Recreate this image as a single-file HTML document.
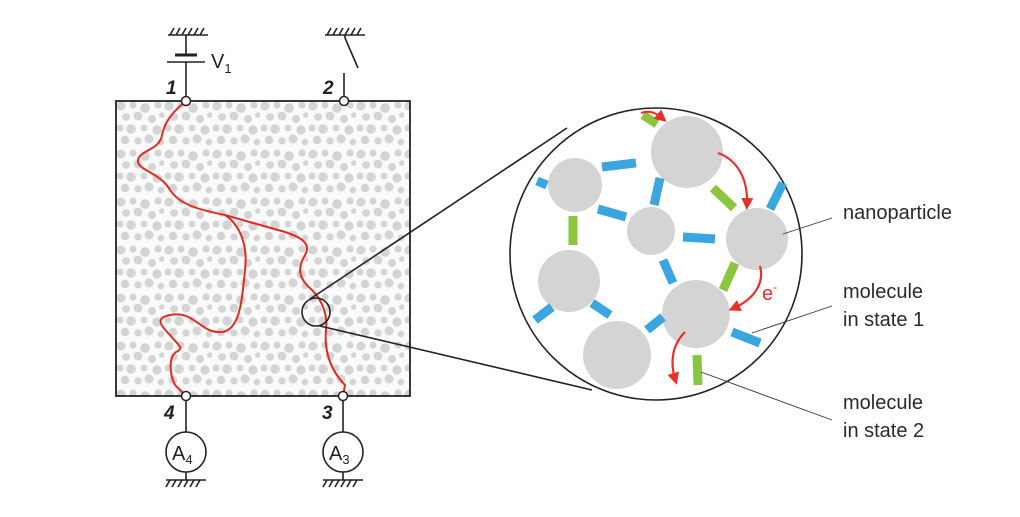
<!DOCTYPE html>
<html><head><meta charset="utf-8"><style>
html,body{margin:0;padding:0;background:#fff;}
svg{display:block;}
text{font-family:"Liberation Sans",Arial,sans-serif;}
</style></head><body>
<svg width="1020" height="517" viewBox="0 0 1020 517" xmlns="http://www.w3.org/2000/svg">
<defs>
<pattern id="dots" x="116" y="101" width="48" height="48" patternUnits="userSpaceOnUse">
<rect width="48" height="48" fill="#fafafa"/>
<g fill="#d4d4d4">
<circle cx="5" cy="5" r="4.5"/><circle cx="17" cy="4" r="3.5"/><circle cx="29" cy="7" r="4.8"/><circle cx="42" cy="4" r="3.6"/>
<circle cx="10" cy="16" r="3.8"/><circle cx="22" cy="15" r="4.4"/><circle cx="36" cy="18" r="4"/><circle cx="46" cy="14" r="2.8"/>
<circle cx="4" cy="27" r="3.5"/><circle cx="15" cy="28" r="4.8"/><circle cx="28" cy="27" r="3.4"/><circle cx="41" cy="29" r="4.6"/>
<circle cx="9" cy="39" r="4.2"/><circle cx="22" cy="40" r="3.6"/><circle cx="33" cy="38" r="4.5"/><circle cx="45" cy="41" r="3.4"/>
</g>
</pattern>
<marker id="ah" markerWidth="12" markerHeight="12" refX="6" refY="6" orient="auto" markerUnits="userSpaceOnUse" viewBox="0 0 12 12"><path d="M0,0 L12,6 L0,12 Z" fill="#e8302a"/></marker>
</defs>

<g stroke="#222" stroke-width="1.6" fill="none">
<line x1="168" y1="35" x2="208" y2="35"/>
<path d="M170,35 l4,-7 M176,35 l4,-7 M182,35 l4,-7 M188,35 l4,-7 M194,35 l4,-7 M200,35 l4,-7"/>
<line x1="186" y1="35" x2="186" y2="55"/>
<line x1="175" y1="55" x2="197" y2="55" stroke-width="3"/>
<line x1="167" y1="62" x2="205" y2="62"/>
<line x1="186" y1="62" x2="186" y2="97"/>
<line x1="325" y1="35" x2="365" y2="35"/>
<path d="M327,35 l4,-7 M333,35 l4,-7 M339,35 l4,-7 M345,35 l4,-7 M351,35 l4,-7 M357,35 l4,-7"/>
<path d="M345,35 L345,38 L358,68"/>
<line x1="344" y1="73" x2="344" y2="97"/>
<line x1="186" y1="400" x2="186" y2="432"/>
<line x1="343" y1="400" x2="343" y2="432"/>
<circle cx="186" cy="452" r="20"/>
<circle cx="343" cy="452" r="20"/>
<line x1="186" y1="472" x2="186" y2="480"/>
<line x1="343" y1="472" x2="343" y2="480"/>
<line x1="166" y1="480" x2="206" y2="480"/>
<line x1="323" y1="480" x2="363" y2="480"/>
<path d="M166,487 l4,-7 M172,487 l4,-7 M178,487 l4,-7 M184,487 l4,-7 M190,487 l4,-7 M196,487 l4,-7"/>
<path d="M323,487 l4,-7 M329,487 l4,-7 M335,487 l4,-7 M341,487 l4,-7 M347,487 l4,-7 M353,487 l4,-7"/>
</g>
<text x="211" y="68" font-size="20" fill="#222">V<tspan font-size="13" dy="5">1</tspan></text>
<text x="166" y="94" font-size="19" font-weight="bold" font-style="italic" fill="#222">1</text>
<text x="323" y="94" font-size="19" font-weight="bold" font-style="italic" fill="#222">2</text>
<text x="164" y="419" font-size="19" font-weight="bold" font-style="italic" fill="#222">4</text>
<text x="322" y="419" font-size="19" font-weight="bold" font-style="italic" fill="#222">3</text>
<text x="172" y="460" font-size="20" fill="#222">A<tspan font-size="13" dy="4">4</tspan></text>
<text x="329" y="460" font-size="20" fill="#222">A<tspan font-size="13" dy="4">3</tspan></text>

<rect x="116" y="101" width="294" height="295" fill="url(#dots)" stroke="#222" stroke-width="1.8"/>

<g stroke="#e32a22" stroke-width="2" fill="none" stroke-linejoin="round">
<path d="M186,101 C175,110 165,120 162,135 C160,150 140,150 138,160 C136,170 160,172 170,190 C180,205 200,210 225,215 C250,222 260,225 285,232 C300,237 312,243 305,255 C296,270 300,280 312,290 C322,300 328,315 326,330 C324,350 330,370 345,385 L343,396"/>
<path d="M225,215 C240,225 248,245 245,270 C242,300 240,330 222,332 C200,334 195,310 170,315 C155,318 160,325 170,335 C178,345 185,348 176,352 C168,358 170,375 175,385 L186,396"/>
</g>
<g fill="#fff" stroke="#222" stroke-width="1.5">
<circle cx="186" cy="101" r="4.5"/><circle cx="344" cy="101" r="4.5"/>
<circle cx="186" cy="396" r="4.5"/><circle cx="343" cy="396" r="4.5"/>
</g>

<g stroke="#222" stroke-width="1.6" fill="none">
<circle cx="316" cy="312" r="14"/>
<line x1="310" y1="299" x2="567" y2="128"/>
<line x1="320" y1="326" x2="592" y2="390"/>
<circle cx="656" cy="254" r="146" fill="#fff"/>
</g>

<g fill="#d4d4d4">
<circle cx="687" cy="152" r="36"/>
<circle cx="575" cy="185" r="27"/>
<circle cx="651" cy="231" r="24"/>
<circle cx="757" cy="239" r="31"/>
<circle cx="569" cy="281" r="31"/>
<circle cx="696" cy="314" r="34"/>
<circle cx="617" cy="355" r="34"/>
</g>
<g stroke="#3aa5df" stroke-width="9" fill="none">
<line x1="602" y1="167" x2="636" y2="163"/>
<line x1="537" y1="181" x2="547" y2="185"/>
<line x1="660" y1="178" x2="654" y2="205"/>
<line x1="598" y1="209" x2="626" y2="217"/>
<line x1="783" y1="183" x2="770" y2="209"/>
<line x1="683" y1="237" x2="715" y2="239"/>
<line x1="663" y1="260" x2="673" y2="283"/>
<line x1="535" y1="320" x2="552" y2="307"/>
<line x1="592" y1="303" x2="610" y2="315"/>
<line x1="647" y1="330" x2="663" y2="317"/>
<line x1="732" y1="332" x2="760" y2="343"/>
</g>
<g stroke="#8cc63f" stroke-width="9" fill="none">
<line x1="573" y1="216" x2="573" y2="245"/>
<line x1="713" y1="188" x2="734" y2="208"/>
<line x1="735" y1="263" x2="723" y2="290"/>
<line x1="697" y1="355" x2="698" y2="385"/>
<line x1="643" y1="115" x2="657" y2="124"/>
</g>
<g stroke="#e8302a" stroke-width="2.2" fill="none" marker-end="url(#ah)">
<path d="M641,113 C650,110 656,113 662,118"/>
<path d="M718,153 C738,160 748,180 747,204"/>
<path d="M760,266 C765,285 752,300 734,308"/>
<path d="M685,332 C672,345 670,362 675,379"/>
</g>
<text x="762" y="300" font-size="20" fill="#e8302a">e<tspan font-size="12" dy="-9">-</tspan></text>

<g stroke="#333" stroke-width="0.9">
<line x1="783" y1="234" x2="832" y2="218"/>
<line x1="752" y1="333" x2="832" y2="306"/>
<line x1="701" y1="372" x2="832" y2="420"/>
</g>
<g font-size="20" fill="#2a2a2a">
<text x="843" y="219">nanoparticle</text>
<text x="843" y="298">molecule</text>
<text x="843" y="326">in state 1</text>
<text x="843" y="409">molecule</text>
<text x="843" y="437">in state 2</text>
</g>
</svg>
</body></html>
